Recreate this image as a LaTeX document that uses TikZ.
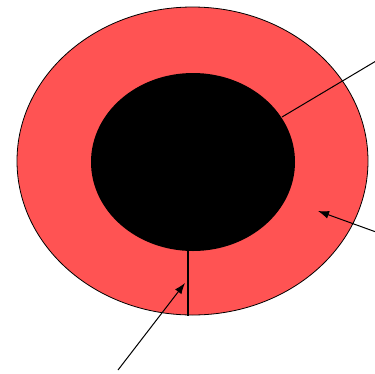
\documentclass[tikz,border=0pt]{standalone}
\usetikzlibrary{shapes.geometric,arrows.meta}
\definecolor{ringred}{HTML}{FF5353}
\begin{document}
\begin{tikzpicture}[x=1pt,y=-1pt,
  ring/.style={ellipse,draw=black,line width=0.8pt,fill=ringred,inner sep=0pt,minimum width=351pt,minimum height=308pt},
  core/.style={ellipse,fill=black,inner sep=0pt,minimum width=204pt,minimum height=178pt},
  lead/.style={draw=black,line width=1pt},
  ptr/.style={lead,-{Latex[length=11pt,width=8pt]}}]
\useasboundingbox (0,0) rectangle (375,373);
\node[ring] (outer) at (192.5,161) {};
\node[core] (inner) at (193,162) {};
\coordinate (l1) at (376,61);
\coordinate (e1) at (282,117);
\coordinate (l2) at (376,232);
\coordinate (l4) at (118,370);
\coordinate (t2) at (318,211);
\coordinate (t4) at (185,283);
\coordinate (vtop) at (188,250);
\coordinate (vbot) at (188,315.5);
\draw[lead] (l1) -- (e1);
\draw[ptr] (l2) -- (t2);
\draw[lead,line width=1.2pt] (vtop) -- (vbot);
\draw[ptr] (l4) -- (t4);
\end{tikzpicture}
\end{document}
